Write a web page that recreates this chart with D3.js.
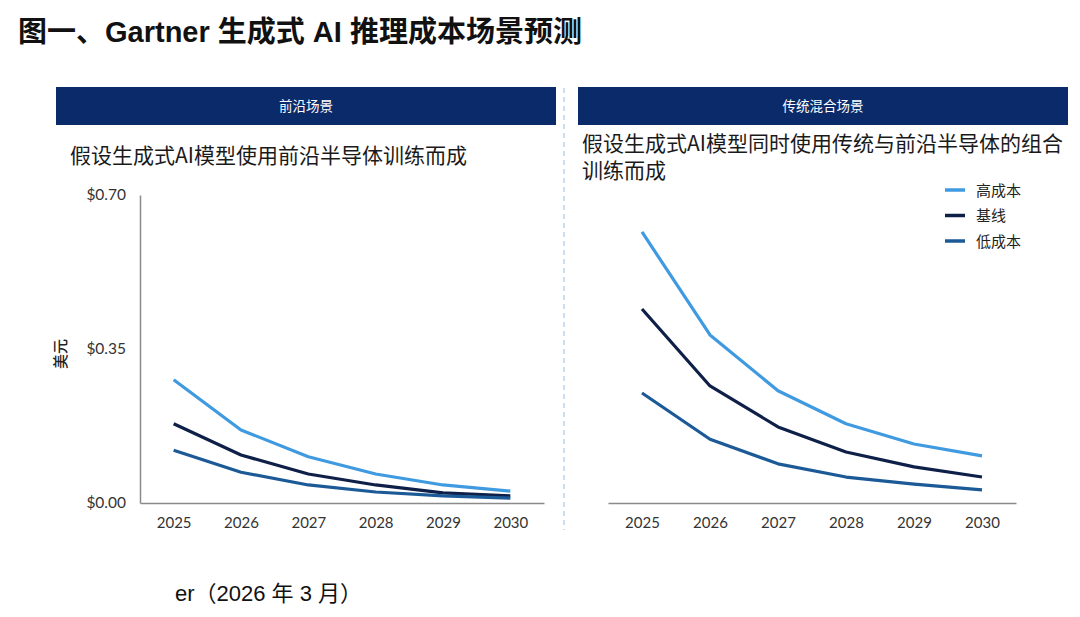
<!DOCTYPE html>
<html>
<head>
<meta charset="utf-8">
<script src="https://cdn.jsdelivr.net/npm/d3@7"></script>
<style>
  body { margin: 0; background: #fff; }
  svg { display: block; }
</style>
</head>
<body>
<svg id="chart"></svg>
<script>
// values
const years = ["2025", "2026", "2027", "2028", "2029", "2030"];
const yTicks = [0, 0.35, 0.7];
const seriesNames = ["高成本", "基线", "低成本"];
const seriesColors = ["#3f9ae0", "#0e1f48", "#1c5a97"];

const frontierHigh = [0.280, 0.166, 0.105, 0.066, 0.041, 0.027];
const frontierBase = [0.180, 0.109, 0.066, 0.041, 0.023, 0.016];
const frontierLow  = [0.120, 0.070, 0.041, 0.025, 0.016, 0.011];

const mixedHigh = [0.616, 0.382, 0.255, 0.180, 0.134, 0.107];
const mixedBase = [0.441, 0.266, 0.173, 0.116, 0.082, 0.059];
const mixedLow  = [0.250, 0.145, 0.089, 0.059, 0.043, 0.030];

const width = 1080, height = 617;
const cjk = "'Noto Sans CJK SC', 'Noto Sans', sans-serif";
const num = "Lato, 'Noto Sans', sans-serif";

const svg = d3.select("#chart")
    .attr("width", width)
    .attr("height", height);

// main title
svg.append("text")
    .attr("x", 18).attr("y", 42)
    .attr("font-family", "'Liberation Sans', 'Noto Sans CJK SC', sans-serif")
    .attr("font-weight", "bold")
    .attr("font-size", 29)
    .attr("fill", "#111")
    .text("图一、Gartner 生成式 AI 推理成本场景预测");

// dashed divider between panels
svg.append("line")
    .attr("x1", 564).attr("x2", 564)
    .attr("y1", 88).attr("y2", 530)
    .attr("stroke", "#b9d3ea")
    .attr("stroke-width", 1.5)
    .attr("stroke-dasharray", "5,4");

const y = d3.scaleLinear().domain([0, 0.7]).range([503, 195]);

const panels = [
    { title: "前沿场景", bar: [56, 556], sub: ["假设生成式AI模型使用前沿半导体训练而成"], subX: 70, subY: 163,
      xr: [140, 544], data: [frontierHigh, frontierBase, frontierLow], yAxis: true },
    { title: "传统混合场景", bar: [578, 1068], sub: ["假设生成式AI模型同时使用传统与前沿半导体的组合", "训练而成"], subX: 582, subY: 151,
      xr: [608, 1016], data: [mixedHigh, mixedBase, mixedLow], yAxis: false }
];

const line = d3.line()
    .x(d => d.x)
    .y(d => y(d.v));

panels.forEach(p => {
    const g = svg.append("g");

    g.append("rect")
        .attr("x", p.bar[0]).attr("y", 87)
        .attr("width", p.bar[1] - p.bar[0]).attr("height", 38)
        .attr("fill", "#0b2a6a");
    g.append("text")
        .attr("x", (p.bar[0] + p.bar[1]) / 2).attr("y", 111)
        .attr("text-anchor", "middle")
        .attr("font-family", cjk).attr("font-size", 13.5)
        .attr("fill", "#fff")
        .text(p.title);

    // subtitle, wrapped into lines as in the reference
    const st = g.append("text")
        .attr("font-family", cjk).attr("font-size", 21)
        .attr("fill", "#1a1a1a");
    p.sub.forEach((s, i) => {
        st.append("tspan")
            .attr("x", p.subX).attr("y", p.subY + i * 27)
            .text(s);
    });

    const x = d3.scalePoint().domain(years).range(p.xr).padding(0.5);

    // x axis
    const xa = g.append("g")
        .attr("transform", `translate(0,${y(0)})`)
        .call(d3.axisBottom(x).tickSize(0).tickPadding(14));
    xa.select(".domain").attr("stroke", "#8a8a8a").attr("stroke-width", 1.5);
    xa.selectAll("text")
        .attr("font-family", num).attr("font-size", 15).attr("fill", "#333");

    if (p.yAxis) {
        const ya = g.append("g")
            .attr("transform", `translate(${p.xr[0]},0)`)
            .call(d3.axisLeft(y).tickValues(yTicks).tickSize(0).tickPadding(14)
                .tickFormat(d => "$" + d3.format(".2f")(d)));
        ya.select(".domain").attr("stroke", "#8a8a8a").attr("stroke-width", 1.5);
        ya.selectAll("text")
            .attr("font-family", num).attr("font-size", 15.5).attr("fill", "#333");

        g.append("text")
            .attr("transform", `translate(66,${y(0.35) + 5}) rotate(-90)`)
            .attr("text-anchor", "middle")
            .attr("font-family", cjk).attr("font-size", 15).attr("font-weight", 500)
            .attr("fill", "#222")
            .text("美元");
    }

    p.data.forEach((vals, i) => {
        g.append("path")
            .datum(vals.map((v, j) => ({ x: x(years[j]), v: v })))
            .attr("d", line)
            .attr("fill", "none")
            .attr("stroke", seriesColors[i])
            .attr("stroke-width", 3.2)
            .attr("stroke-linejoin", "round");
    });
});

// legend (right panel)
const legend = svg.append("g").attr("transform", "translate(945,190)");
seriesNames.forEach((n, i) => {
    legend.append("line")
        .attr("x1", 0).attr("x2", 20)
        .attr("y1", i * 25.5).attr("y2", i * 25.5)
        .attr("stroke", seriesColors[i]).attr("stroke-width", 3.5);
    legend.append("text")
        .attr("x", 31).attr("y", i * 25.5 + 5.5)
        .attr("font-family", cjk).attr("font-size", 15).attr("fill", "#222")
        .text(n);
});

// source note
svg.append("text")
    .attr("x", 175).attr("y", 601)
    .attr("font-family", "'Liberation Sans', 'Noto Sans CJK SC', sans-serif")
    .attr("font-size", 22).attr("fill", "#111")
    .text("er（2026 年 3 月）");
</script>
</body>
</html>
